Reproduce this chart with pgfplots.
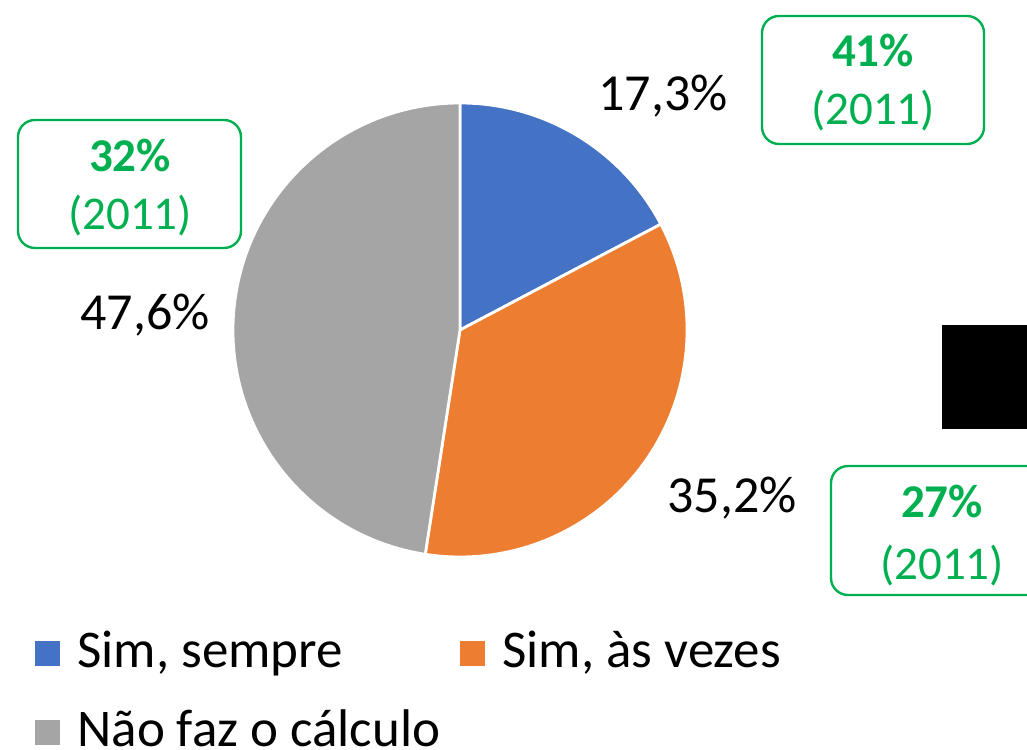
\documentclass[border=0pt]{standalone}
\usepackage{fontspec}
\setmainfont{Carlito}
\usepackage{pgfplots}
\usepackage{pgfplotstable}
\pgfplotsset{compat=1.18}

\definecolor{cBlue}{HTML}{4472C4}
\definecolor{cOrange}{HTML}{ED7D31}
\definecolor{cGray}{HTML}{A5A5A5}
\definecolor{cGreen}{HTML}{00B050}

% shares of the pie, in %
\pgfplotstableread{
share
17.3
35.2
47.6
}\piedata

\def\R{113.5pt}
\tikzset{
  lbl/.style={font=\fontsize{26}{31}\selectfont, anchor=base west, inner sep=0pt},
  leg/.style={font=\fontsize{26.5}{31}\selectfont, anchor=base west, inner sep=0pt},
  box/.style={draw=cGreen, line width=1.2pt, rounded corners=8.5pt},
  boxt/.style={text=cGreen, font=\fontsize{23.5}{28}\selectfont, anchor=base, inner sep=0pt},
}

\begin{document}
\begin{tikzpicture}
\pgfplotstablegetelem{0}{share}\of\piedata \let\sA\pgfplotsretval
\pgfplotstablegetelem{1}{share}\of\piedata \let\sB\pgfplotsretval
\pgfplotstablegetelem{2}{share}\of\piedata \let\sC\pgfplotsretval
\pgfmathsetmacro\tot{\sA+\sB+\sC}
\pgfmathsetmacro\aA{90-\sA/\tot*360}
\pgfmathsetmacro\aB{\aA-\sB/\tot*360}
\pgfmathsetmacro\aC{\aB-\sC/\tot*360}
\begin{axis}[
  name=ax,
  scale only axis, width=513.5pt, height=374.5pt,
  xmin=0, xmax=1027, ymin=0, ymax=749,
  xtick=\empty, ytick=\empty,
  axis lines=none, clip=true,
]
  % pie sectors
  \filldraw[fill=cBlue, draw=white, line width=1.4pt]
    (axis cs:460,419) -- ([shift={(90:\R)}]axis cs:460,419)
    arc[start angle=90, end angle=\aA, radius=\R] -- cycle;
  \filldraw[fill=cOrange, draw=white, line width=1.4pt]
    (axis cs:460,419) -- ([shift={(\aA:\R)}]axis cs:460,419)
    arc[start angle=\aA, end angle=\aB, radius=\R] -- cycle;
  \filldraw[fill=cGray, draw=white, line width=1.4pt]
    (axis cs:460,419) -- ([shift={(\aB:\R)}]axis cs:460,419)
    arc[start angle=\aB, end angle=\aC, radius=\R] -- cycle;

  % data labels
  \node[lbl] at (axis cs:598,638) {17,3\%};
  \node[lbl] at (axis cs:667,236) {35,2\%};
  \node[lbl] at (axis cs:80,419) {47,6\%};

  % 2011 boxes
  \draw[box] (axis cs:762,605) rectangle (axis cs:984,733);
  \node[boxt] at (axis cs:873,682) {\textbf{41\%}};
  \node[boxt] at (axis cs:873,624) {(2011)};
  \draw[box] (axis cs:18,501) rectangle (axis cs:241,629);
  \node[boxt] at (axis cs:130,577) {\textbf{32\%}};
  \node[boxt] at (axis cs:130,519) {(2011)};
  \draw[box] (axis cs:831,154) rectangle (axis cs:1053,283);
  \node[boxt] at (axis cs:942,231) {\textbf{27\%}};
  \node[boxt] at (axis cs:942,169) {(2011)};

  % black block at right edge
  \fill[black] (axis cs:942,320) rectangle (axis cs:1040,424);

  % legend
  \fill[cBlue] (axis cs:35,83) rectangle (axis cs:60,108);
  \node[leg] at (axis cs:77,81) {Sim, sempre};
  \fill[cOrange] (axis cs:460,83) rectangle (axis cs:485,108);
  \node[leg] at (axis cs:502,81) {Sim, às vezes};
  \fill[cGray] (axis cs:35,4) rectangle (axis cs:60,29);
  \node[leg] at (axis cs:77,3) {Não faz o cálculo};
\end{axis}
\pgfresetboundingbox
\useasboundingbox (ax.south west) rectangle (ax.north east);
\end{tikzpicture}
\end{document}
